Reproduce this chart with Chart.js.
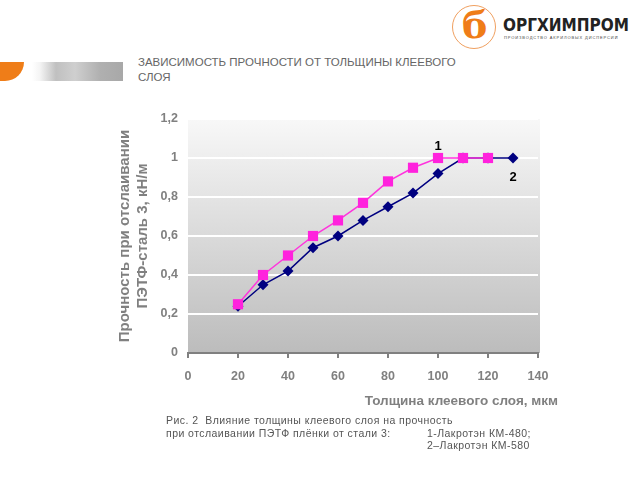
<!DOCTYPE html>
<html>
<head>
<meta charset="utf-8">
<script src="https://cdn.jsdelivr.net/npm/chart.js@4"></script>
<style>
  body { margin: 0; width: 640px; height: 480px; background: #fff; position: relative; overflow: hidden; font-family: "Liberation Sans", Arial, sans-serif; }
  #wrap { position: absolute; left: 0; top: 0; width: 640px; height: 480px; }
  .bar { position: absolute; left: 0; top: 62px; width: 123px; height: 19px;
    background: linear-gradient(to right, #ffffff 0px, #ffffff 32px, #f4f4f4 40px, #c0c0c0 56px, #cfcfcf 75px, #b0b0b0 100px, #a8a8a8 123px); }
  .bar .or { position: absolute; left: 0; top: 0; width: 24px; height: 19px; border-radius: 0 0 24px 0; background: #ef7d18; }
  .title { position: absolute; left: 138px; top: 55px; font-size: 11.5px; line-height: 14.5px; color: #666; white-space: nowrap; }
  .caption { position: absolute; left: 166px; top: 414px; font-size: 10.5px; line-height: 12.5px; color: #555; letter-spacing: 0.45px; white-space: nowrap; }
  .caption .r { position: absolute; left: 261px; }
  .logo-c { position: absolute; left: 452px; top: 5px; width: 42px; height: 42px; border: 1.5px solid #f0a060; border-radius: 50%; }
  .logo-c span { position: absolute; left: 9px; top: -4px; font-size: 38px; font-weight: bold; color: #ef7d18; font-family: "DejaVu Serif", serif; }
  .logo-t { position: absolute; left: 503px; top: 15px; font-size: 17px; font-weight: bold; color: #222; font-family: "DejaVu Sans Condensed", "Liberation Sans Narrow", sans-serif; }
  .logo-s { position: absolute; left: 504px; top: 35px; font-size: 4px; color: #444; letter-spacing: 0.9px; white-space: nowrap; }
</style>
</head>
<body>
<div class="logo-c"><span>б</span></div>
<div class="logo-t">ОРГХИМПРОМ</div>
<div class="logo-s">ПРОИЗВОДСТВО АКРИЛОВЫХ ДИСПЕРСИЙ</div>
<div class="bar"><div class="or"></div></div>
<div class="title">ЗАВИСИМОСТЬ ПРОЧНОСТИ ОТ ТОЛЬЩИНЫ КЛЕЕВОГО<br>СЛОЯ</div>
<div id="wrap"><canvas id="chart" width="640" height="480"></canvas></div>
<div class="caption">Рис. 2&nbsp; Влияние толщины клеевого слоя на прочность<br>при отслаивании ПЭТФ плёнки от стали 3:<span class="r">1-Лакротэн КМ-480;</span><br><span style="padding-left:261px">2–Лакротэн КМ-580</span></div>
<script>
const thickness1 = [20, 30, 40, 50, 60, 70, 80, 90, 100, 110, 120];
const strength1 = [0.25, 0.40, 0.50, 0.60, 0.68, 0.77, 0.88, 0.95, 1.00, 1.00, 1.00];
const thickness2 = [20, 30, 40, 50, 60, 70, 80, 90, 100, 110, 120, 130];
const strength2 = [0.24, 0.35, 0.42, 0.54, 0.60, 0.68, 0.75, 0.82, 0.92, 1.00, 1.00, 1.00];
const curveLabels = ['1', '2'];
const labelX = [100, 130];
const labelY = [1.06, 0.90];

const grey = '#808080';
const fontFam = '"Liberation Sans", Arial, sans-serif';

const plotBg = {
    id: 'plotBg',
    beforeDraw(chart) {
        const { ctx, chartArea: a } = chart;
        const g = ctx.createLinearGradient(0, a.top, 0, a.bottom);
        g.addColorStop(0, '#f8f8f8');
        g.addColorStop(1, '#bcbcbc');
        ctx.save();
        ctx.fillStyle = g;
        ctx.fillRect(a.left, a.top, a.right - a.left + 2, a.bottom - a.top);
        ctx.restore();
    }
};

const extraText = {
    id: 'extraText',
    afterDraw(chart) {
        const { ctx, chartArea: a, scales } = chart;
        ctx.save();
        ctx.fillStyle = '#000';
        ctx.font = 'bold 13px ' + fontFam;
        ctx.textAlign = 'center';
        ctx.textBaseline = 'middle';
        curveLabels.forEach((t, i) => {
            ctx.fillText(t, scales.x.getPixelForValue(labelX[i]), scales.y.getPixelForValue(labelY[i]));
        });
        ctx.fillStyle = grey;
        ctx.font = 'bold 13.5px ' + fontFam;
        ctx.textAlign = 'right';
        ctx.fillText('Толщина клеевого слоя, мкм', a.right + 20, 401);
        ctx.restore();
    }
};

new Chart(document.getElementById('chart'), {
    type: 'line',
    data: {
        datasets: [
            {
                label: '1',
                data: thickness1.map((x, i) => ({ x: x, y: strength1[i] })),
                borderColor: '#ff33dd',
                backgroundColor: '#ff22dd',
                borderWidth: 1.5,
                pointStyle: 'rect',
                pointRadius: 7.2,
                pointBorderWidth: 0
            },
            {
                label: '2',
                data: thickness2.map((x, i) => ({ x: x, y: strength2[i] })),
                borderColor: '#000080',
                backgroundColor: '#000080',
                borderWidth: 1.5,
                pointStyle: 'rectRot',
                pointRadius: 5.5,
                pointBorderWidth: 0
            }
        ]
    },
    options: {
        responsive: false,
        animation: false,
        layout: { padding: { left: 116, right: 102, top: 119, bottom: 0 } },
        plugins: { legend: { display: false }, tooltip: { enabled: false } },
        scales: {
            x: {
                type: 'linear',
                min: 0, max: 140,
                afterFit: s => { s.height = 127; },
                border: { color: grey, width: 2 },
                grid: { drawOnChartArea: false, drawTicks: true, tickLength: 5, color: grey, lineWidth: 2 },
                ticks: { stepSize: 20, color: grey, padding: 11, font: { size: 12.5, weight: 'bold', family: fontFam } }
            },
            y: {
                min: 0, max: 1.2,
                afterFit: s => { s.width = 72; },
                border: { display: false },
                grid: { color: '#ffffff', lineWidth: 2, drawTicks: false },
                ticks: {
                    stepSize: 0.2, color: grey, padding: 10,
                    font: { size: 12.5, weight: 'bold', family: fontFam },
                    callback: v => String(Math.round(v * 10) / 10).replace('.', ',')
                },
                title: {
                    display: true,
                    text: ['Прочность при отслаивании', 'ПЭТФ-сталь 3, кН/м'],
                    color: grey,
                    padding: { top: 0, bottom: 0 },
                    font: { size: 15, weight: 'bold', family: fontFam, lineHeight: 1.2 }
                }
            }
        }
    },
    plugins: [plotBg, extraText]
});
</script>
</body>
</html>
